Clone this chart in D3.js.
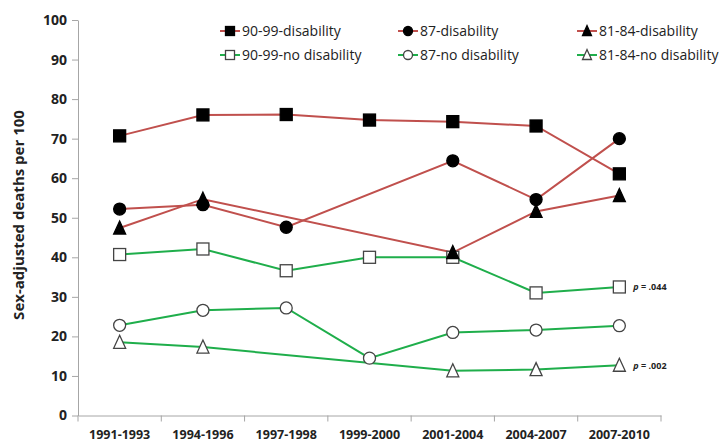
<!DOCTYPE html>
<html><head><meta charset="utf-8">
<script src="https://cdn.jsdelivr.net/npm/d3@7"></script>
<style>body{margin:0;background:#fff}svg{display:block}text{font-family:"Open Sans","Liberation Sans",sans-serif}</style>
</head><body><svg id="c" width="724" height="447"></svg>
<script>
const categories = ["1991-1993","1994-1996","1997-1998","1999-2000","2001-2004","2004-2007","2007-2010"];
const dis9099   = [70.7, 76.0, 76.1, 74.7, 74.3, 73.2, 61.1];
const dis87     = [52.2, 53.3, 47.6, null, 64.4, 54.6, 70.0];
const dis8184   = [47.4, 54.7, null, null, 41.2, 51.6, 55.6];
const nodis9099 = [40.7, 42.1, 36.6, 40.0, 40.0, 31.0, 32.5];
const nodis87   = [22.8, 26.6, 27.2, 14.5, 21.0, 21.6, 22.7];
const nodis8184 = [18.5, 17.3, null, null, 11.3, 11.6, 12.7];
const yTicks = [0,10,20,30,40,50,60,70,80,90,100];
const pLabels = [{series:"90-99-no disability", text:".044"},{series:"81-84-no disability", text:".002"}];

const series = [
  {name:"90-99-disability", values:dis9099, color:"#c0504d", shape:"square", filled:true},
  {name:"87-disability", values:dis87, color:"#c0504d", shape:"circle", filled:true},
  {name:"81-84-disability", values:dis8184, color:"#c0504d", shape:"triangle", filled:true},
  {name:"90-99-no disability", values:nodis9099, color:"#1fae4b", shape:"square", filled:false},
  {name:"87-no disability", values:nodis87, color:"#1fae4b", shape:"circle", filled:false},
  {name:"81-84-no disability", values:nodis8184, color:"#1fae4b", shape:"triangle", filled:false}
];

const svg = d3.select("#c");
const x = d3.scaleBand().domain(categories).range([78, 661]);
const y = d3.scaleLinear().domain([0,100]).range([415.5, 20]);

// axes
const ya = svg.append("g").attr("transform","translate(78,0)")
  .call(d3.axisLeft(y).tickValues(yTicks).tickSize(6).tickSizeOuter(0));
ya.select(".domain").attr("stroke","#a6a6a6");
ya.selectAll(".tick line").attr("stroke","#a6a6a6");
ya.selectAll(".tick text").attr("x",-11).attr("font-size",14).attr("font-weight","bold").attr("fill","#222");

const xa = svg.append("g").attr("transform","translate(0,415.5)")
  .call(d3.axisBottom(x).tickSize(0).tickPadding(15));
xa.select(".domain").attr("stroke","#a6a6a6");
xa.selectAll(".tick text").attr("font-size",12.5).attr("font-weight","bold").attr("fill","#222");
// band edge ticks
const edges = categories.map(c=>x(c)).concat([x.range()[1]]);
svg.append("g").selectAll("line").data(edges).join("line")
  .attr("x1",d=>d).attr("x2",d=>d).attr("y1",415.5).attr("y2",421.5).attr("stroke","#a6a6a6");

svg.append("text").attr("transform","translate(24,215) rotate(-90)")
  .attr("text-anchor","middle").attr("font-size",15).attr("font-weight","bold").attr("fill","#222")
  .text("Sex-adjusted deaths per 100");

const cx = c => x(c) + x.bandwidth()/2;
const line = d3.line().defined(d=>d.v!=null).x(d=>cx(d.c)).y(d=>y(d.v));

function marker(g, shape, filled, px, py, s){
  const fill = filled ? "#000" : "#fff";
  const stroke = filled ? "#000" : "#444";
  if(shape==="square") g.append("rect").attr("x",px-s/2).attr("y",py-s/2).attr("width",s).attr("height",s).attr("fill",fill).attr("stroke",stroke).attr("stroke-width",1.3);
  else if(shape==="circle") g.append("circle").attr("cx",px).attr("cy",py).attr("r",s/2).attr("fill",fill).attr("stroke",stroke).attr("stroke-width",1.3);
  else g.append("path").attr("d",`M${px},${py-s/2-1}L${px+s/2},${py+s/2}L${px-s/2},${py+s/2}Z`).attr("fill",fill).attr("stroke",stroke).attr("stroke-width",1.3);
}

// lines first (green then red), then markers
const order = [3,4,5,0,1,2];
order.forEach(i=>{
  const s = series[i];
  const data = categories.map((c,j)=>({c, v:s.values[j]})).filter(d=>d.v!=null);
  svg.append("path").datum(data).attr("d",line).attr("fill","none").attr("stroke",s.color).attr("stroke-width",2);
});
order.forEach(i=>{
  const s = series[i];
  const g = svg.append("g");
  categories.forEach((c,j)=>{ if(s.values[j]!=null) marker(g, s.shape, s.filled, cx(c), y(s.values[j]), 12); });
});

// p labels
pLabels.forEach(p=>{
  const s = series.find(d=>d.name===p.series);
  const last = categories.length-1;
  const t = svg.append("text").attr("x", cx(categories[last])+14).attr("y", y(s.values[last])+3.5)
    .attr("font-size",9).attr("font-weight","bold").attr("fill","#222").attr("font-family","Liberation Sans, Arial, sans-serif");
  t.append("tspan").attr("font-style","italic").text("p");
  t.append("tspan").text(" = " + p.text);
});

// legend
const legX = [220, 398, 577], legY = [31, 55];
series.forEach((s,i)=>{
  const lx = legX[i%3], ly = legY[Math.floor(i/3)];
  const g = svg.append("g");
  g.append("line").attr("x1",lx).attr("x2",lx+20).attr("y1",ly).attr("y2",ly).attr("stroke",s.color).attr("stroke-width",2);
  marker(g, s.shape, s.filled, lx+10, ly, 9);
  g.append("text").attr("x",lx+22).attr("y",ly+5).attr("font-size",14).attr("fill","#222").text(s.name);
});
</script></body></html>
